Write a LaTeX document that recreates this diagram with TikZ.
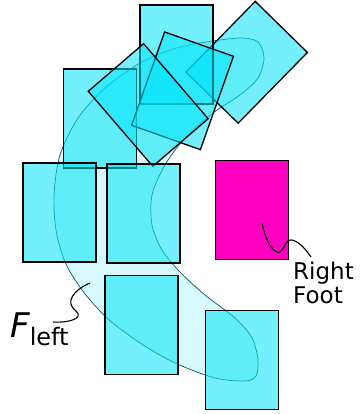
\documentclass[tikz,border=0pt]{standalone}
\usepackage{fontspec}
\setsansfont{DejaVu Sans}
\usepackage{xcolor}
\usepackage{tikz}
\usetikzlibrary{calc}

\definecolor{footcyan}{RGB}{0,228,250}
\definecolor{footpink}{RGB}{255,0,192}
\definecolor{zonefill}{RGB}{213,249,252}
\definecolor{zoneline}{RGB}{20,80,90}

\begin{document}
\begin{tikzpicture}[x=1pt, y=-1pt,
    foot/.style={rectangle, draw=black, line width=1.3pt, fill=footcyan, fill opacity=0.55, minimum width=73pt, minimum height=99pt, inner sep=0pt, outer sep=0pt},
    rightfoot/.style={foot, fill=footpink, fill opacity=1},
    zone/.style={draw=zoneline, line width=0.7pt, fill=zonefill},
    leader/.style={draw=black, line width=1.1pt},
    lbl/.style={font=\sffamily\fontsize{23}{23.5}\selectfont, inner sep=0pt, align=left}
]
\useasboundingbox (0,0) rectangle (360,414);

% region of the left foot
\draw[zone] plot[smooth cycle, tension=0.5] coordinates {
    (200,43) (240,38) (258,42) (264,58) (258,78) (240,95) (213,113) (185,138)
    (165,165) (152,195) (152,225) (162,250) (180,272) (205,295) (235,318)
    (252,338) (258,360) (256,376) (245,381) (215,378) (175,363) (140,343)
    (107,318) (82,290) (65,262) (56,230) (54,195) (60,155) (78,118) (105,88)
    (140,63) (170,50)};

\node[foot, rotate=-44.4] (step3) at (246.7,62.3) {};
\node[foot] (step1) at (176.5,54.5) {};
\node[foot] (step2) at (100,118.5) {};
\node[foot, rotate=-19.5] (step5) at (182.5,90.8) {};
\node[foot, rotate=40.7] (step4) at (148.2,105) {};
\node[foot] (step6) at (59.5,212.5) {};
\node[foot] (step7) at (143.5,213.5) {};
\node[foot] (step8) at (141.5,325) {};
\node[foot] (step9) at (242,360) {};
\node[rightfoot] (right) at (252,210) {};

\node[lbl, anchor=north west] (rlabel) at (293,262) {Right\\Foot};
\node[anchor=base west, inner sep=0pt] (flabel) at (10,337)
    {\sffamily{\fontsize{34}{34}\selectfont\itshape F}\raisebox{-8pt}{\fontsize{24}{24}\selectfont left}};

\coordinate (rtip) at (262,223);
\coordinate (ftip) at (90,283);
\coordinate (fend) at ($(flabel.base west)+(43,-15)$);

\draw[leader] (rtip) .. controls (265,240) and (274,255) .. (280,252)
    .. controls (285,249) and (285,239) .. (292,240)
    .. controls (300,242) and (306,250) .. ($(rlabel.north west)+(18,-5)$);
\draw[leader] (ftip) .. controls (74,290) and (64,302) .. (76,311)
    .. controls (84,318) and (70,323) .. (fend);
\end{tikzpicture}
\end{document}
